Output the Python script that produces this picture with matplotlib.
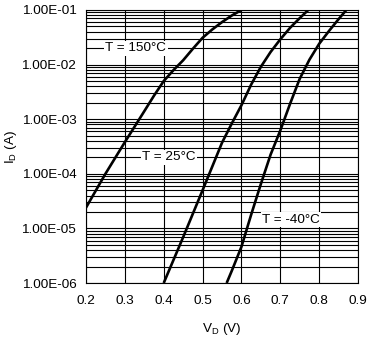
import matplotlib
matplotlib.use("Agg")
import matplotlib.pyplot as plt
from matplotlib.ticker import FixedLocator, FuncFormatter, LogLocator, NullFormatter

plt.rcParams['font.family'] = ['Liberation Sans', 'DejaVu Sans']
plt.rcParams['mathtext.fontset'] = 'custom'
plt.rcParams['mathtext.rm'] = 'Liberation Sans'
plt.rcParams['mathtext.it'] = 'Liberation Sans'

# Data
v150 = [0.2, 0.25, 0.3, 0.35, 0.375, 0.4, 0.425, 0.45, 0.475, 0.5, 0.525, 0.55, 0.575, 0.6]
i150 = [2.4e-5, 1.0e-4, 3.8e-4, 1.4e-3, 2.7e-3, 5.0e-3, 7.9e-3, 1.2e-2, 1.95e-2, 3.1e-2,
        4.4e-2, 6.0e-2, 7.9e-2, 1.0e-1]

v25 = [0.4, 0.45, 0.5, 0.55, 0.575, 0.6, 0.625, 0.65, 0.675, 0.7, 0.725, 0.75, 0.772]
i25 = [1.0e-6, 6.9e-6, 5.0e-5, 3.7e-4, 8.3e-4, 1.8e-3, 4.3e-3, 9.1e-3, 1.7e-2, 2.9e-2,
       4.7e-2, 7.1e-2, 1.0e-1]

vm40 = [0.562, 0.575, 0.6, 0.625, 0.65, 0.675, 0.7, 0.725, 0.75, 0.775, 0.8, 0.825, 0.85, 0.87]
im40 = [1.0e-6, 1.66e-6, 4.6e-6, 1.78e-5, 6.5e-5, 2.24e-4, 6.2e-4, 1.9e-3, 5.5e-3,
        1.23e-2, 2.4e-2, 4.1e-2, 6.8e-2, 1.0e-1]

labels = ["T = 150°C", "T = 25°C", "T = -40°C"]
label_x = [0.328, 0.413, 0.728]
label_y = [2.0e-2, 2.0e-4, 1.45e-5]

x_ticks = [0.2, 0.3, 0.4, 0.5, 0.6, 0.7, 0.8, 0.9]
y_ticks = [1e-6, 1e-5, 1e-4, 1e-3, 1e-2, 1e-1]

FS = 9.7

fig = plt.figure(figsize=(3.68, 3.44), dpi=100)
ax = fig.add_axes([86/368, 1-283/344, (358-86)/368, (283-10)/344])

ax.set_yscale('log')
ax.set_xlim(0.2, 0.9)
ax.set_ylim(1e-6, 1e-1)

ax.xaxis.set_major_locator(FixedLocator(x_ticks))
ax.yaxis.set_major_locator(FixedLocator(y_ticks))
ax.yaxis.set_minor_locator(LogLocator(base=10, subs=range(2, 10), numticks=20))
ax.yaxis.set_minor_formatter(NullFormatter())
ax.yaxis.set_major_formatter(FuncFormatter(lambda v, p: '{:.2E}'.format(v)))
ax.xaxis.set_major_formatter(FuncFormatter(lambda v, p: '{:.1f}'.format(v)))

ax.grid(True, which='major', axis='x', color='black', linewidth=0.8)
ax.grid(True, which='both', axis='y', color='black', linewidth=0.8)
ax.set_axisbelow(True)

ax.tick_params(axis='both', which='both', length=0, labelsize=FS, colors='black')
ax.tick_params(axis='y', pad=7)
ax.tick_params(axis='x', pad=9)

for s in ax.spines.values():
    s.set_color('black')
    s.set_linewidth(0.8)

for v, i in [(v150, i150), (v25, i25), (vm40, im40)]:
    ax.plot(v, i, color='black', linewidth=1.9, zorder=3,
            solid_capstyle='butt', solid_joinstyle='round')

for t, x, y in zip(labels, label_x, label_y):
    ax.text(x, y, t, ha='center', va='center', fontsize=FS, zorder=4,
            bbox=dict(facecolor='white', edgecolor='none', pad=1.0))

ax.set_ylabel(r'I$_\mathrm{D}$ (A)', fontsize=FS)
ax.yaxis.set_label_coords(-0.245, 0.5)
ax.set_xlabel(r'V$_\mathrm{D}$ (V)', fontsize=FS, labelpad=10)

fig.savefig('out.png', dpi=100)
